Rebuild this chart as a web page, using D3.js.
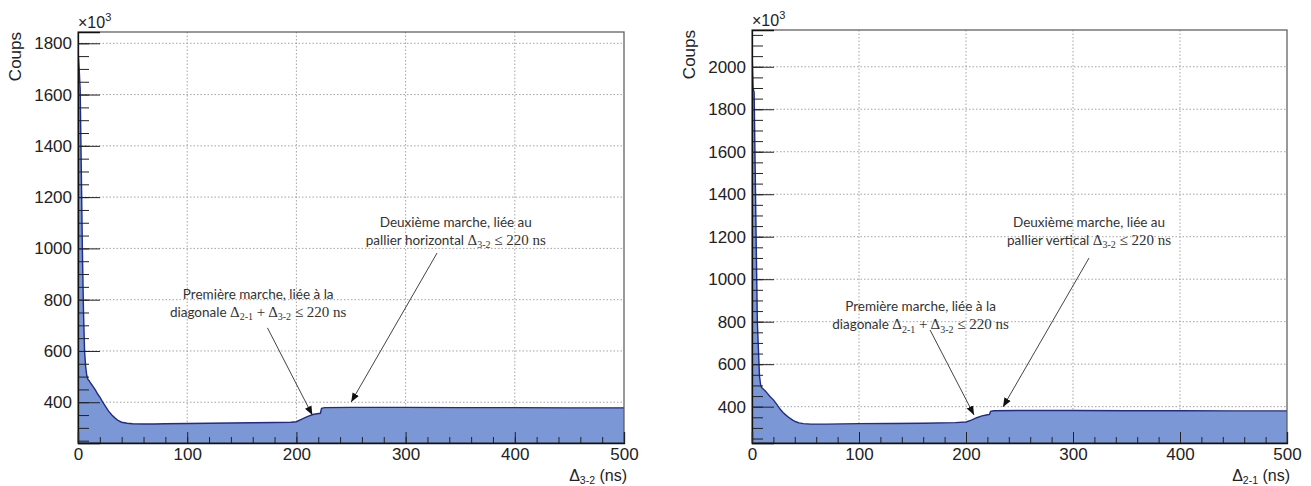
<!DOCTYPE html>
<html><head><meta charset="utf-8">
<script src="https://cdn.jsdelivr.net/npm/d3@7"></script>
<style>body{margin:0;background:#fff} svg{display:block}</style>
</head><body>
<svg id="c" width="1311" height="486"></svg>
<script>
// ---------- data ----------
const xTicks = [0, 100, 200, 300, 400, 500];
const leftYTicks = [400, 600, 800, 1000, 1200, 1400, 1600, 1800];
const rightYTicks = [400, 600, 800, 1000, 1200, 1400, 1600, 1800, 2000];

// left histogram: Δ3-2 (ns) vs counts (×10^3)
const leftNs =     [0,    1,    2,    3,    4,    5,   6,   7,   8,   9,   10,  12,  14,  16,  18,  20,  22,  25,  28,  31,  34,  37,  40,  45,  50,  60,  70,  80,  100, 120, 140, 160, 180, 195, 200, 205, 210, 215, 219, 222, 223, 226, 250, 300, 350, 400, 450, 500];
const leftCounts = [1775, 1705, 1620, 1315, 1000, 760, 600, 540, 505, 490, 485, 472, 460, 447, 432, 420, 405, 385, 365, 350, 338, 328, 322, 318, 316, 315, 315, 316, 317, 318, 319, 320, 321, 322, 324, 334, 344, 352, 355, 357, 376, 379, 380, 380, 379, 379, 378, 378];

// right histogram: Δ2-1 (ns) vs counts (×10^3)
const rightNs =     [0,    1,    2,    3,    4,    5,   6,   7,   8,   9,   10,  12,  14,  17,  20,  23,  26,  29,  32,  35,  38,  41,  44,  48,  55,  70,  100, 130, 160, 190, 200, 205, 210, 215, 219, 222, 223, 226, 250, 300, 350, 400, 450, 500];
const rightCounts = [2080, 1900, 1880, 1510, 1140, 800, 670, 545, 505, 490, 485, 476, 465, 447, 432, 412, 390, 373, 359, 347, 337, 329, 324, 320, 318, 318, 320, 321, 322, 325, 328, 337, 348, 357, 361, 364, 378, 381, 382, 382, 381, 381, 380, 380];

// annotation texts (segments: s = sans, m = serif math, sub = subscript)
const noteFirstLine1 = [{t: "Première marche, liée à la", f: "s"}];
const noteFirstLine2 = [{t: "diagonale ", f: "s"}, {t: "Δ", f: "m"}, {t: "2-1", f: "m", sub: true}, {t: " + Δ", f: "m"}, {t: "3-2", f: "m", sub: true}, {t: " ≤ 220 ns", f: "m"}];
const noteSecondLine1 = [{t: "Deuxième marche, liée au", f: "s"}];
const leftSecondLine2 = [{t: "pallier horizontal ", f: "s"}, {t: "Δ", f: "m"}, {t: "3-2", f: "m", sub: true}, {t: " ≤ 220 ns", f: "m"}];
const rightSecondLine2 = [{t: "pallier vertical ", f: "s"}, {t: "Δ", f: "m"}, {t: "3-2", f: "m", sub: true}, {t: " ≤ 220 ns", f: "m"}];

// annotation anchors in data units [ns, counts]
const leftNotes = [
  {lines: [noteFirstLine1, noteFirstLine2], at: [165, 803], from: [173.5, 690], to: [214.6, 350]},
  {lines: [noteSecondLine1, leftSecondLine2], at: [346, 1084], from: [328.8, 982], to: [250.2, 401]}
];
const rightNotes = [
  {lines: [noteFirstLine1, noteFirstLine2], at: [157.5, 849], from: [166.4, 761], to: [207.5, 361]},
  {lines: [noteSecondLine1, rightSecondLine2], at: [315, 1246], from: [315, 1100], to: [234.6, 399]}
];

// ---------- drawing ----------
const svg = d3.select("#c");
const defs = svg.append("defs");
defs.append("marker").attr("id", "arr").attr("viewBox", "0 0 10 10")
  .attr("refX", 10).attr("refY", 5).attr("markerWidth", 9).attr("markerHeight", 9)
  .attr("markerUnits", "userSpaceOnUse").attr("orient", "auto")
  .append("path").attr("d", "M0,1 L10,5 L0,9 Z").attr("fill", "#111");

const panels = [
  {ns: leftNs, counts: leftCounts, yTicks: leftYTicks, yDomain: [241, 1844],
   box: {l: 78, r: 624, t: 32, b: 443}, sub: "3-2", titleY: 481, notes: leftNotes},
  {ns: rightNs, counts: rightCounts, yTicks: rightYTicks, yDomain: [229, 2173],
   box: {l: 752, r: 1287, t: 30, b: 443}, sub: "2-1", titleY: 481, notes: rightNotes}
];

const SANS = "'Liberation Sans', Arial, Helvetica, sans-serif";
const CAL = "Lato, 'Open Sans', sans-serif";
const SERIF = "'Liberation Serif', 'Times New Roman', serif";

function writeSegs(textSel, segs) {
  let lowered = false;
  segs.forEach(s => {
    const ts = textSel.append("tspan").text(s.t)
      .attr("font-family", s.f === "s" ? CAL : SERIF)
      .attr("font-size", s.sub ? 10 : (s.f === "s" ? 13.5 : 15));
    if (s.sub && !lowered) { ts.attr("dy", 3.5); lowered = true; }
    else if (!s.sub && lowered) { ts.attr("dy", -3.5); lowered = false; }
  });
}

panels.forEach((p, i) => {
  const B = p.box;
  const x = d3.scaleLinear().domain([0, 500]).range([B.l, B.r]);
  const y = d3.scaleLinear().domain(p.yDomain).range([B.b, B.t]);
  const g = svg.append("g");

  defs.append("clipPath").attr("id", "clip" + i)
    .append("rect").attr("x", B.l).attr("y", B.t).attr("width", B.r - B.l).attr("height", B.b - B.t);

  // grid
  g.append("g").selectAll("line").data(xTicks.filter(d => d > 0 && d < 500)).join("line")
    .attr("x1", d => x(d)).attr("x2", d => x(d)).attr("y1", B.t).attr("y2", B.b)
    .attr("stroke", "#9a9a9a").attr("stroke-width", 0.9).attr("stroke-dasharray", "1.5,2");
  g.append("g").selectAll("line").data(p.yTicks).join("line")
    .attr("x1", B.l).attr("x2", B.r).attr("y1", d => y(d)).attr("y2", d => y(d))
    .attr("stroke", "#9a9a9a").attr("stroke-width", 0.9).attr("stroke-dasharray", "1.5,2");

  // histogram area
  const pts = p.ns.map((n, k) => [n, p.counts[k]]);
  const hg = g.append("g").attr("clip-path", `url(#clip${i})`);
  hg.append("path").datum(pts)
    .attr("d", d3.area().x(d => x(d[0])).y0(y(p.yDomain[0])).y1(d => y(d[1])))
    .attr("fill", "#7b97d5");
  hg.append("path").datum([[0, p.yDomain[0]], ...pts])
    .attr("d", d3.line().x(d => x(d[0])).y(d => y(d[1])))
    .attr("fill", "none").attr("stroke", "#1f2c8a").attr("stroke-width", 1.4);

  // frame
  g.append("rect").attr("x", B.l).attr("y", B.t).attr("width", B.r - B.l).attr("height", B.b - B.t)
    .attr("fill", "none").attr("stroke", "#555").attr("stroke-width", 1.2);

  // y axis (inward ticks)
  const yMinor = d3.range(Math.ceil(p.yDomain[0] / 50) * 50, p.yDomain[1], 50);
  g.append("g").attr("transform", `translate(${B.l},0)`)
    .call(d3.axisLeft(y).tickValues(yMinor).tickSize(-11).tickFormat(""))
    .call(a => a.select(".domain").remove())
    .selectAll("line").attr("stroke", "#222");
  const ya = g.append("g").attr("transform", `translate(${B.l},0)`)
    .call(d3.axisLeft(y).tickValues(p.yTicks).tickSize(-22).tickPadding(6).tickFormat(d3.format("d")));
  ya.select(".domain").attr("stroke", "#111").attr("stroke-width", 1.3);
  ya.selectAll("line").attr("stroke", "#222");
  ya.selectAll("text").attr("font-family", SANS).attr("font-size", 17).attr("fill", "#222");

  // x axis (inward ticks)
  g.append("g").attr("transform", `translate(0,${B.b})`)
    .call(d3.axisBottom(x).tickValues(d3.range(0, 501, 20)).tickSize(-6).tickFormat(""))
    .call(a => a.select(".domain").remove())
    .selectAll("line").attr("stroke", "#222");
  const xa = g.append("g").attr("transform", `translate(0,${B.b})`)
    .call(d3.axisBottom(x).tickValues(xTicks).tickSize(-11).tickPadding(5).tickFormat(d3.format("d")));
  xa.select(".domain").attr("stroke", "#111").attr("stroke-width", 1.3);
  xa.selectAll("line").attr("stroke", "#222");
  xa.selectAll("text").attr("font-family", SANS).attr("font-size", 17).attr("fill", "#222");

  // ×10^3
  const ex = g.append("text").attr("x", B.l).attr("y", B.t - 4)
    .attr("font-family", SANS).attr("font-size", 16).attr("fill", "#222");
  ex.append("tspan").text("×10");
  ex.append("tspan").text("3").attr("font-size", 11).attr("dy", -7);

  // y title
  g.append("text").attr("transform", `translate(${B.l - 57},${B.t}) rotate(-90)`)
    .attr("text-anchor", "end").attr("font-family", SANS).attr("font-size", 17).attr("fill", "#222")
    .text("Coups");

  // x title
  const xt = g.append("text").attr("x", B.r + 3).attr("y", p.titleY).attr("text-anchor", "end")
    .attr("font-family", SANS).attr("font-size", 16).attr("fill", "#222");
  xt.append("tspan").text("Δ");
  xt.append("tspan").text(p.sub).attr("font-size", 10.5).attr("dy", 3);
  xt.append("tspan").text(" (ns)").attr("dy", -3);

  // annotations
  p.notes.forEach(n => {
    n.lines.forEach((segs, li) => {
      const t = g.append("text").attr("x", x(n.at[0])).attr("y", y(n.at[1]) + li * 18)
        .attr("text-anchor", "middle").attr("fill", "#333");
      writeSegs(t, segs);
    });
    g.append("line")
      .attr("x1", x(n.from[0])).attr("y1", y(n.from[1]))
      .attr("x2", x(n.to[0])).attr("y2", y(n.to[1]))
      .attr("stroke", "#444").attr("stroke-width", 1).attr("marker-end", "url(#arr)");
  });
});
</script>
</body></html>
